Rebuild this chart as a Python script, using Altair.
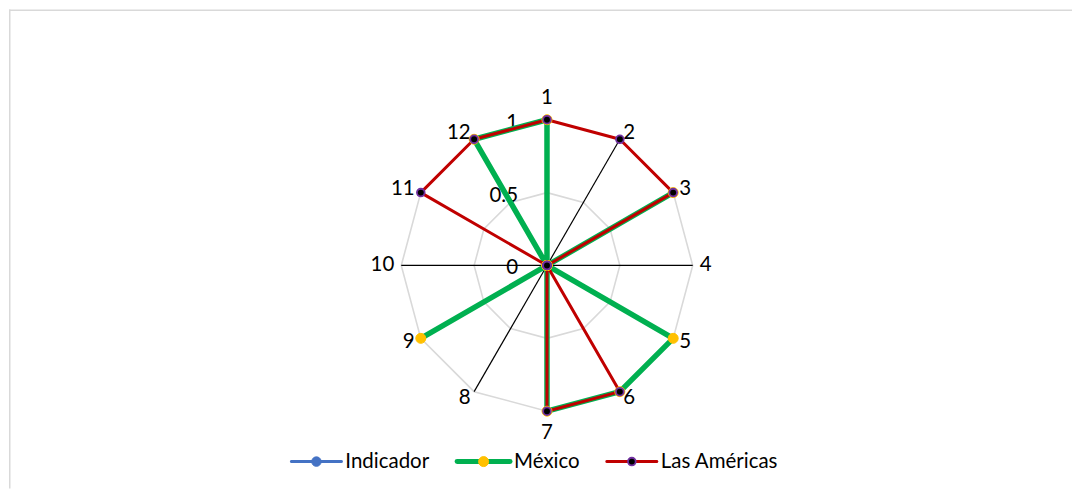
import altair as alt
import pandas as pd

# ---- data ----
categories = ["1", "2", "3", "4", "5", "6", "7", "8", "9", "10", "11", "12"]
indicador = [0, 0, 0, 0, 0, 0, 0, 0, 0, 0, 0, 0]
mexico = [1, 0, 1, 0, 1, 1, 1, 0, 1, 0, 0, 1]
americas = [1, 1, 1, 0, 0, 1, 1, 0, 0, 0, 1, 1]
series_names = ["Indicador", "México", "Las Américas"]
grid_levels = [0.5, 1]
tick_values = [0, 0.5, 1]
tick_labels = ["0", "0.5", "1"]

# ---- layout / style ----
W, H = 1065, 480
CX, CY, R = 539, 256.5, 146.0
FONT = "Lato"
FS = 20.5
styles = {
    "Indicador": dict(line="#4472C4", lw=3, fill="#4472C4", stroke="#4472C4", size=90, sw=1),
    "México": dict(line="#00B050", lw=5.5, fill="#FFC000", stroke="#FFC000", size=100, sw=1),
    "Las Américas": dict(line="#C00000", lw=3, fill="#000000", stroke="#7030A0", size=60, sw=1.8),
}

xs = alt.Scale(domain=[-CX / R, (W - CX) / R], range=[0, W], zero=False, nice=False)
ys = alt.Scale(domain=[-(H - CY) / R, CY / R], zero=False, nice=False)
X = lambda f: alt.X(f, type="quantitative", scale=xs, axis=None)
Y = lambda f: alt.Y(f, type="quantitative", scale=ys, axis=None)

n = len(categories)

# series in long form, closed loop
rows = []
for name, vals in zip(series_names, [indicador, mexico, americas]):
    for i in range(n + 1):
        rows.append({"series": name, "i": i, "value": vals[i % n]})
sdf = pd.DataFrame(rows)

grid_rows = []
for lv in grid_levels:
    for i in range(n + 1):
        grid_rows.append({"level": lv, "i": i})
gdf = pd.DataFrame(grid_rows)

cdf = pd.DataFrame({"cat": categories, "i": list(range(n))})
tdf = pd.DataFrame({"v": tick_values, "lab": tick_labels})

ang = "datum.i * PI / 6"

# chart-area border (top and left edges visible in the reference)
bdf = pd.DataFrame({"b": [0]})
border_top = alt.Chart(bdf).mark_rule(color="#D9D9D9", strokeWidth=1.5).encode(
    x=alt.value(0), x2=alt.value(W), y=alt.value(0.75))
border_left = alt.Chart(bdf).mark_rule(color="#D9D9D9", strokeWidth=1.5).encode(
    y=alt.value(0), y2=alt.value(H), x=alt.value(0.75))

grid = alt.Chart(gdf).mark_line(color="#D9D9D9", strokeWidth=1.6).transform_calculate(
    x=f"datum.level * sin({ang})", y=f"datum.level * cos({ang})"
).encode(x=X("x:Q"), y=Y("y:Q"), order="i:Q", detail="level:N")

spokes = alt.Chart(cdf).mark_rule(color="#000000", strokeWidth=1.2).transform_calculate(
    x0="0", y0="0", x=f"sin({ang})", y=f"cos({ang})"
).encode(x=X("x0:Q"), y=Y("y0:Q"), x2="x:Q", y2="y:Q")

ticks = alt.Chart(tdf).mark_text(
    align="right", baseline="middle", dx=-29, dy=3, font=FONT, fontSize=FS, color="#000000"
).transform_calculate(x0="0").encode(x=X("x0:Q"), y=Y("v:Q"), text="lab:N")

lab_base = alt.Chart(cdf).transform_calculate(
    s=f"sin({ang})", c=f"cos({ang})"
).transform_calculate(
    lx=f"datum.s * (1 + 7 / {R})",
    ly=f"datum.c * (1 + 7 / {R}) + (abs(datum.s) < 0.1 ? datum.c * 15 / {R} : 0)",
)


def labels(flt, align):
    return lab_base.transform_filter(flt).mark_text(
        align=align, baseline="middle", font=FONT, fontSize=FS, color="#000000"
    ).encode(x=X("lx:Q"), y=Y("ly:Q"), text="cat:N")


lab_left = labels("datum.s > 0.1", "left")
lab_right = labels("datum.s < -0.1", "right")
lab_mid = labels("abs(datum.s) <= 0.1", "center")

pos = alt.Chart(sdf).transform_calculate(
    x=f"datum.value * sin({ang})", y=f"datum.value * cos({ang})"
)

lines, points = [], []
for name in series_names:
    st = styles[name]
    lines.append(
        pos.transform_filter(alt.datum.series == name)
        .mark_line(color=st["line"], strokeWidth=st["lw"], strokeJoin="round")
        .encode(x=X("x:Q"), y=Y("y:Q"), order="i:Q")
    )
    points.append(
        pos.transform_filter((alt.datum.series == name) & (alt.datum.i < n))
        .mark_point(filled=True, shape="circle", size=st["size"], fill=st["fill"],
                    stroke=st["stroke"], strokeWidth=st["sw"], opacity=1)
        .encode(x=X("x:Q"), y=Y("y:Q"))
    )

# ---- legend (drawn by hand: line + marker + label) ----
LY = 453
legend_x = {"Indicador": 283, "México": 449, "Las Américas": 599}
legend_len = {"Indicador": 50, "México": 53, "Las Américas": 50}
legend = []
for name in series_names:
    st = styles[name]
    x0 = legend_x[name]
    x1 = x0 + legend_len[name]
    ldf = pd.DataFrame({"label": [name]})
    base = alt.Chart(ldf)
    legend.append(base.mark_rule(color=st["line"], strokeWidth=st["lw"] if name != "México" else 5, strokeCap="round").encode(
        x=alt.value(x0), x2=alt.value(x1), y=alt.value(LY)))
    legend.append(base.mark_point(filled=True, shape="circle", size=st["size"], fill=st["fill"],
                                  stroke=st["stroke"], strokeWidth=st["sw"], opacity=1).encode(
        x=alt.value((x0 + x1) / 2), y=alt.value(LY)))
    legend.append(base.mark_text(align="left", baseline="middle", font=FONT, fontSize=FS,
                                 color="#000000").encode(
        x=alt.value(x1 + 4), y=alt.value(LY), text="label:N"))

chart = alt.layer(
    border_top, border_left, grid, spokes, ticks, lab_left, lab_right, lab_mid,
    *lines, *points, *legend
).properties(width=W, height=H, padding=0).configure_view(stroke=None)

chart.save("out.html", embed_options={"renderer": "svg", "actions": False})
